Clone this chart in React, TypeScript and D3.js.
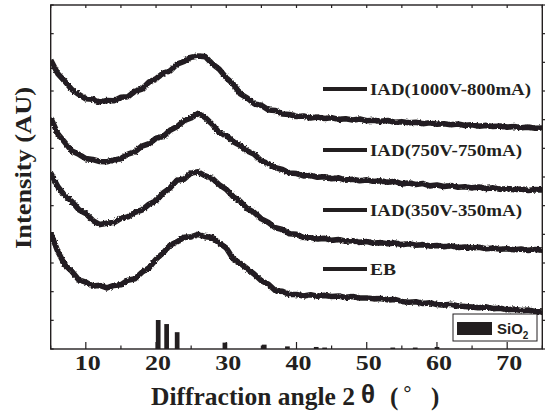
import * as d3 from 'd3';

// 2θ sampling grid (degrees)
const angles = [
  5, 6, 7, 8, 9, 10, 11, 12, 13, 14, 15, 16, 17, 18, 19, 20, 21, 22, 23, 24, 25, 26, 27, 28, 29, 30,
  31, 32, 33, 34, 35, 36, 37, 38, 39, 40, 41, 42, 43, 44, 45, 46, 47, 48, 49, 50, 51, 52, 53, 54, 55,
  56, 57, 58, 59, 60, 61, 62, 63, 64, 65, 66, 67, 68, 69, 70, 71, 72, 73, 74, 75,
];

// intensities (AU, already offset for stacking)
const iad1000 = [
  1008, 961, 934, 905, 888, 873, 871, 861, 867, 866, 878, 880, 899, 907, 931, 943, 962, 970, 994, 1003,
  1018, 1022, 1020, 995, 976, 946, 924, 890, 875, 855, 850, 834, 832, 820, 818, 811, 813, 806,
  809, 804, 807, 801, 803, 799, 802, 796, 798, 794, 797, 791, 793, 789, 791, 786, 789, 784, 786, 782,
  785, 780, 782, 777, 780, 776, 778, 774, 776, 772, 774, 770, 771,
];
const iad750 = [
  806, 751, 721, 691, 679, 664, 661, 654, 653, 659, 664, 680, 688, 708, 716, 735, 741, 763, 776, 797,
  806, 822, 807, 784, 754, 745, 723, 710, 691, 679, 656, 647, 632, 626, 614, 612, 604, 605,
  599, 601, 594, 597, 589, 592, 587, 590, 584, 587, 582, 585, 576, 579, 574, 577, 569, 572, 567, 570,
  564, 566, 562, 565, 560, 562, 557, 560, 556, 558, 553, 556, 555,
];
const iad350 = [
  614, 567, 535, 515, 486, 473, 448, 434, 439, 441, 456, 461, 477, 485, 505, 517, 544, 562, 589, 593,
  614, 618, 604, 595, 573, 557, 531, 515, 489, 476, 454, 441, 423, 417, 402, 400, 389, 388,
  384, 386, 379, 382, 376, 378, 372, 375, 369, 371, 367, 370, 364, 367, 362, 364, 359, 361, 357, 360,
  354, 356, 352, 355, 350, 352, 348, 350, 346, 349, 344, 347, 345,
];
const eb = [
  405, 341, 294, 271, 241, 233, 220, 222, 213, 222, 224, 240, 245, 268, 283, 313, 335, 362, 374, 390,
  391, 400, 392, 389, 370, 352, 314, 299, 280, 261, 238, 226, 203, 201, 190, 190, 185, 189,
  184, 187, 183, 185, 180, 183, 178, 178, 175, 176, 171, 173, 166, 163, 165, 159, 161, 155, 153, 156,
  150, 148, 146, 144, 147, 141, 142, 137, 139, 134, 136, 131, 129,
];

const seriesNames = ['IAD(1000V-800mA)', 'IAD(750V-750mA)', 'IAD(350V-350mA)', 'EB'];
const seriesData = [iad1000, iad750, iad350, eb];

// SiO2 reference pattern
const sio2Angles = [20.3, 21.5, 23.0, 29.8, 35.4, 38.7, 42.8, 44.0, 53.7, 56.9, 60.0];
const sio2Rel = [100, 86, 58, 22, 15, 9, 7, 5, 5, 5, 7];

const xTickLabels = [10, 20, 30, 40, 50, 60, 70];

const W = 545;
const H = 414;
const left = 50.7, right = 542.3, top = 5, bottom = 349;
const ink = '#231f20';
const serif = '"Liberation Serif", "Times New Roman", serif';
const sans = '"Liberation Sans", Arial, sans-serif';

export default function App() {
  const x = d3.scaleLinear().domain([5, 75]).range([left, right]);
  const y = d3.scaleLinear().domain([0, 1200]).range([bottom, top]);
  const refY = d3.scaleLinear().domain([0, 100]).range([bottom, 320]);

  const line = d3
    .line<number>()
    .x((_, i) => x(angles[i]))
    .y((d) => y(d));

  const minorX = d3.range(5, 76, 5);
  const yTicks = y.ticks(12);

  const legendY = [89, 150, 210, 269];
  const legendLen = [161, 152, 152, 26];

  return (
    <svg width={W} height={H} style={{ position: 'absolute', left: 0, top: 0, background: '#fff' }}>
      <defs>
        <clipPath id="plot">
          <rect x={left} y={top} width={right - left} height={bottom - top} />
        </clipPath>
        <filter id="rough" x="-5%" y="-10%" width="110%" height="120%">
          <feTurbulence type="fractalNoise" baseFrequency="0.5" numOctaves="2" seed="4" />
          <feDisplacementMap in="SourceGraphic" scale="3" xChannelSelector="R" yChannelSelector="G" />
        </filter>
      </defs>

      {/* curves */}
      <g clipPath="url(#plot)">
        {seriesData.map((s, i) => (
          <path
            key={seriesNames[i]}
            d={line(s) || ''}
            fill="none"
            stroke={ink}
            strokeWidth={5.6}
            strokeLinejoin="round"
            filter="url(#rough)"
          />
        ))}
      </g>

      {/* SiO2 reference sticks */}
      {sio2Angles.map((a, i) => (
        <rect
          key={a}
          x={x(a) - 2.3}
          y={refY(sio2Rel[i])}
          width={4.7}
          height={bottom - refY(sio2Rel[i])}
          fill={ink}
        />
      ))}

      {/* frame */}
      <rect x={left} y={top} width={right - left} height={bottom - top} fill="none" stroke={ink} strokeWidth={1.4} />

      {/* bottom ticks */}
      {minorX.map((t) => (
        <line key={'b' + t} x1={x(t)} x2={x(t)} y1={bottom} y2={bottom - (t % 10 === 0 ? 7 : 3.5)} stroke={ink} strokeWidth={1.2} />
      ))}
      {/* top ticks */}
      {minorX.map((t) => (
        <line key={'t' + t} x1={x(t)} x2={x(t)} y1={top} y2={top + 3} stroke={ink} strokeWidth={1.2} />
      ))}
      {/* left / right ticks */}
      {yTicks.map((t) => (
        <g key={'y' + t}>
          <line x1={left} x2={left + 3} y1={y(t)} y2={y(t)} stroke={ink} strokeWidth={1.2} />
          <line x1={right} x2={right + 3} y1={y(t)} y2={y(t)} stroke={ink} strokeWidth={1.2} />
        </g>
      ))}

      {/* x tick labels */}
      {xTickLabels.map((t) => (
        <text
          key={'l' + t}
          x={x(t) + 2}
          y={370}
          textAnchor="middle"
          fontFamily={serif}
          fontWeight="bold"
          fontSize={22}
          fill={ink}
          textLength={26}
          lengthAdjust="spacingAndGlyphs"
        >
          {t}
        </text>
      ))}

      {/* axis titles */}
      <text x={151} y={405} fontFamily={serif} fontWeight="bold" fontSize={25} fill={ink} textLength={204} lengthAdjust="spacingAndGlyphs">
        Diffraction angle 2
      </text>
      <text x={361} y={403} fontFamily={sans} fontWeight="bold" fontSize={26} fill={ink}>
        θ
      </text>
      <text x={390} y={405} fontFamily={serif} fontWeight="bold" fontSize={25} fill={ink}>
        (
      </text>
      <text x={403} y={402} fontFamily={sans} fontSize={22} fill={ink}>
        °
      </text>
      <text x={431} y={405} fontFamily={serif} fontWeight="bold" fontSize={25} fill={ink}>
        )
      </text>

      <text
        transform="translate(31,168) rotate(-90)"
        textAnchor="middle"
        fontFamily={serif}
        fontWeight="bold"
        fontSize={23}
        fill={ink}
        textLength={162}
        lengthAdjust="spacingAndGlyphs"
      >
        Intensity (AU)
      </text>

      {/* series legend */}
      {seriesNames.map((n, i) => (
        <g key={'lg' + n}>
          <line x1={323} x2={367} y1={legendY[i]} y2={legendY[i]} stroke={ink} strokeWidth={4} />
          <text
            x={370}
            y={legendY[i] + 6}
            fontFamily={serif}
            fontWeight="bold"
            fontSize={17}
            fill={ink}
            textLength={legendLen[i]}
            lengthAdjust="spacingAndGlyphs"
          >
            {n}
          </text>
        </g>
      ))}

      {/* SiO2 legend box */}
      <rect x={453} y={314} width={84} height={27} fill="#fff" stroke={ink} strokeWidth={1} />
      <rect x={457} y={322} width={35} height={13} fill={ink} />
      <text x={497} y={334} fontFamily={sans} fontWeight="bold" fontSize={15} fill={ink}>
        SiO
        <tspan fontSize={10} dy={5}>
          2
        </tspan>
      </text>
    </svg>
  );
}
